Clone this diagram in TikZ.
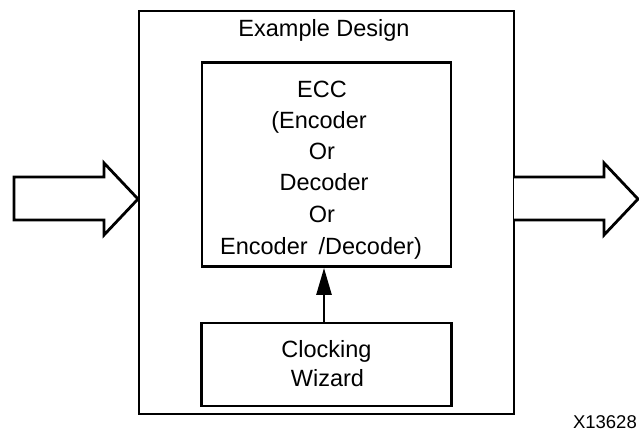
\documentclass[tikz,border=0pt]{standalone}
\usepackage{fontspec}
\setmainfont{Liberation Sans}
\usetikzlibrary{arrows.meta}

\tikzset{
  blk/.style={draw=black, line width=2.8pt, fill=white, inner sep=0pt},
  lbl/.style={anchor=base, inner sep=0pt, font=\fontsize{23.5}{31}\selectfont},
  tag/.style={anchor=base east, inner sep=0pt, font=\fontsize{18.5}{22}\selectfont},
  bigarrow/.style={draw=black, line width=2.8pt, fill=white, line join=miter},
  clkarrow/.style={line width=2.6pt, -{Triangle[length=27pt,width=15pt]}}
}

\begin{document}
\begin{tikzpicture}[x=1pt, y=-1pt]
  \useasboundingbox (0,0) rectangle (639,432);

  % outer example-design frame and the two inner blocks
  \node[blk, minimum width=375pt, minimum height=403pt] (design) at (326.5,212.5) {};
  \node[blk, minimum width=249pt, minimum height=204pt] (ecc) at (326.5,164.5) {};
  \node[blk, minimum width=250pt, minimum height=83pt] (clk) at (326.5,364.5) {};

  % block arrows: data in and data out
  \coordinate (intip) at (138,199);
  \draw[bigarrow] (14,177) -- (104,177) -- (104,163) -- (intip)
      -- (104,235) -- (104,220) -- (14,220) -- cycle;
  \coordinate (outbase) at (514,199);
  \draw[bigarrow] (514,177) -- (604,177) -- (604,163) -- (638,199)
      -- (604,235) -- (604,220) -- (514,220);

  % titles and block texts
  \node[lbl] (title) at (324,36) {Example Design};
  \node[lbl] (e1) at (322,97) {ECC};
  \node[lbl] (e2) at (319,128) {(Encoder};
  \node[lbl] (e3) at (322,159) {Or};
  \node[lbl] (e4) at (324,190) {Decoder};
  \node[lbl] (e5) at (322,222) {Or};
  \node[lbl] (e6) at (321,254) {Encoder\hspace{11pt}/Decoder)};
  \node[lbl] (c1) at (326.5,357) {Clocking};
  \node[lbl] (c2) at (327.5,386) {Wizard};

  % clock connection
  \draw[clkarrow] ([xshift=-2.5pt]clk.north) -- ([xshift=-2.5pt]ecc.south);

  \node[tag] (fig) at (637,428) {X13628};
\end{tikzpicture}
\end{document}
